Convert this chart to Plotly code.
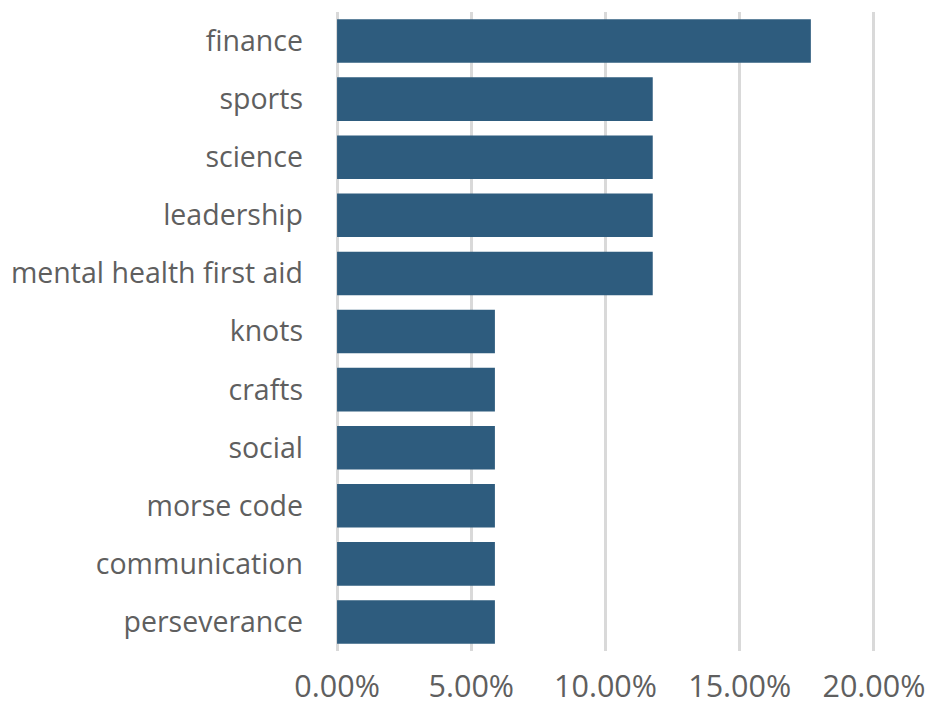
import plotly.graph_objects as go

categories = ["finance", "sports", "science", "leadership", "mental health first aid",
              "knots", "crafts", "social", "morse code", "communication", "perseverance"]
values = [0.1765, 0.1176, 0.1176, 0.1176, 0.1176,
          0.0588, 0.0588, 0.0588, 0.0588, 0.0588, 0.0588]
x_ticks = [0, 0.05, 0.10, 0.15, 0.20]
x_tick_labels = ["0.00%", "5.00%", "10.00%", "15.00%", "20.00%"]

fig = go.Figure(go.Bar(
    x=values, y=categories, orientation="h",
    marker=dict(color="#2E5C7E", line=dict(width=0)),
))

fig.update_layout(
    width=925, height=700,
    margin=dict(l=328, r=58, t=4, b=57, autoexpand=False),
    paper_bgcolor="white", plot_bgcolor="white",
    bargap=0.25,
    showlegend=False,
    font=dict(family="Open Sans", color="#5f5f5f"),
)
fig.update_xaxes(
    range=[-0.0004, 0.2004], tickvals=x_ticks, ticktext=x_tick_labels,
    showgrid=True, gridcolor="#D9D9D9", gridwidth=3,
    zeroline=False, showline=False, ticks="", automargin=False,
    tickfont=dict(size=30.5), ticklabelstandoff=14,
)
fig.update_yaxes(
    autorange="reversed", showgrid=False, zeroline=False, showline=False,
    ticks="", automargin=False, tickfont=dict(size=28.5), ticklabelstandoff=32,
)

fig.write_html("out.html")
